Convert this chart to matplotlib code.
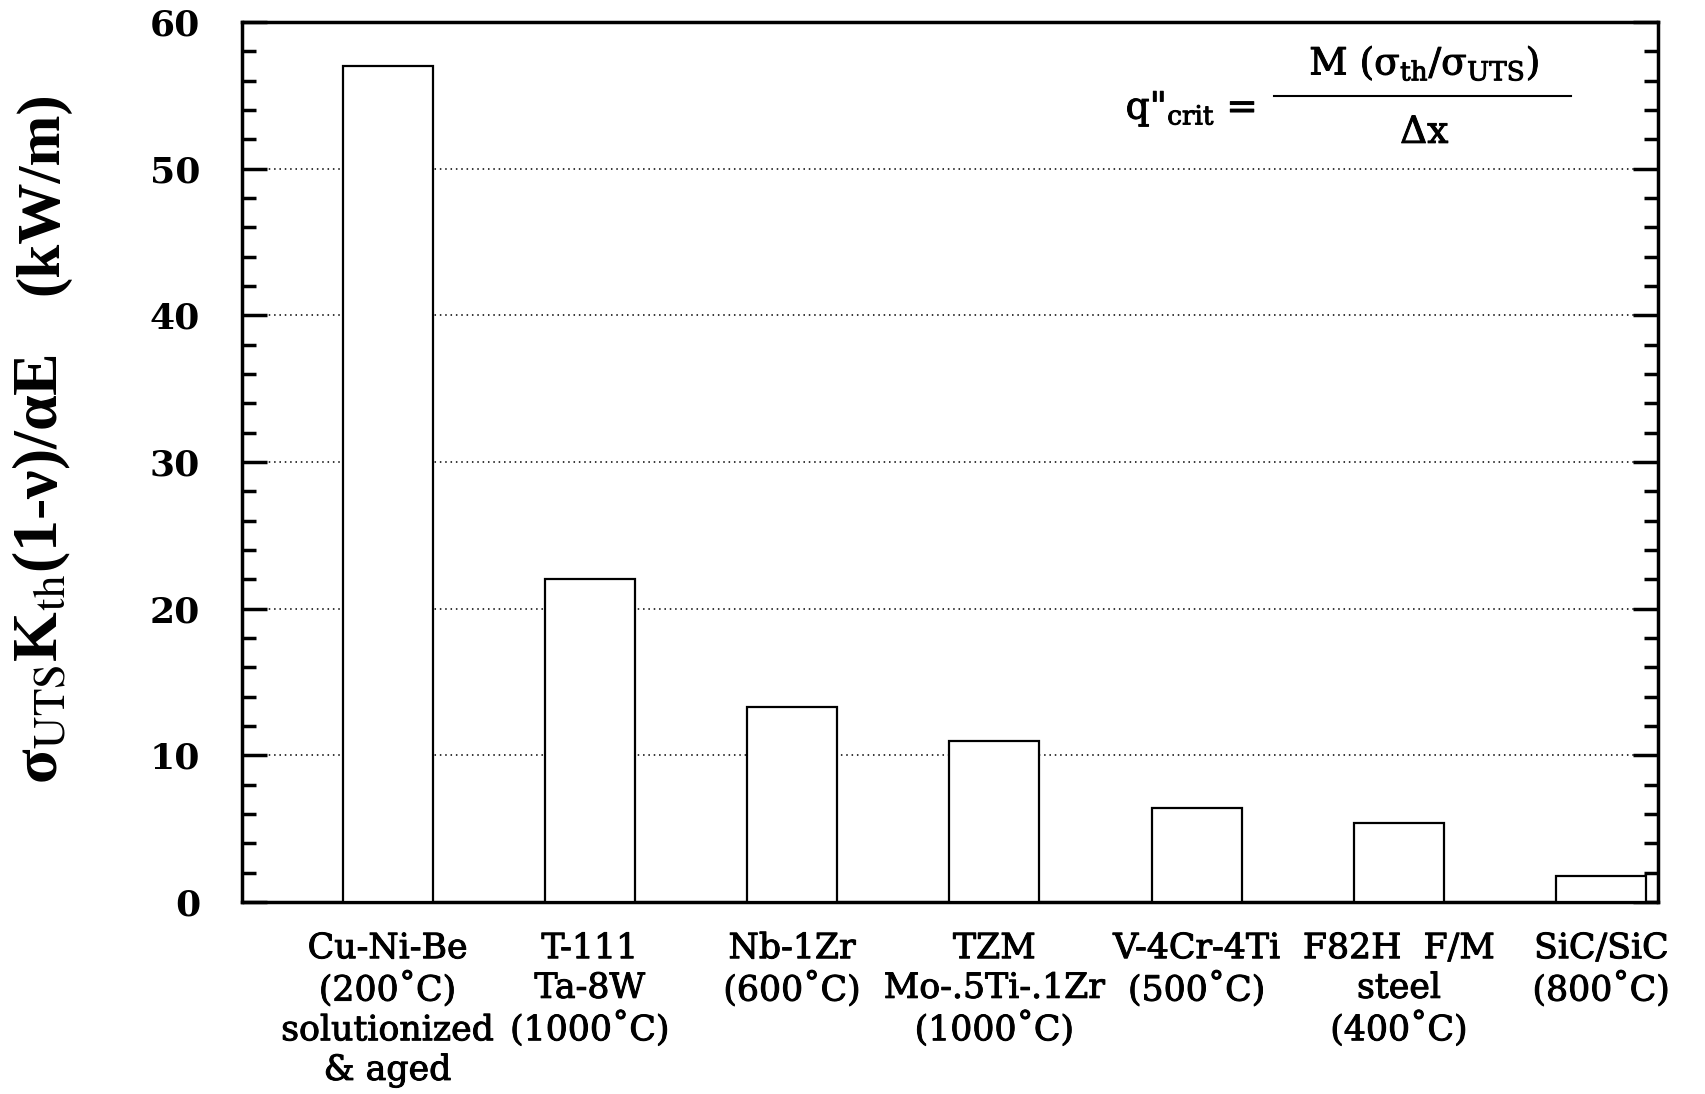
"""
Critical heat flux figure of merit for candidate first-wall alloys.
"""

import matplotlib
matplotlib.use("Agg")
import matplotlib.pyplot as plt
import matplotlib.patheffects as pe
from matplotlib.lines import Line2D
from matplotlib.ticker import MultipleLocator

plt.rcParams["font.family"] = ["DejaVu Serif"]
plt.rcParams["mathtext.fontset"] = "dejavuserif"

materials = [
    "Cu-Ni-Be\n(200\u02daC)\nsolutionized\n& aged",
    "T-111\nTa-8W\n(1000\u02daC)",
    "Nb-1Zr\n(600\u02daC)",
    "TZM\nMo-.5Ti-.1Zr\n(1000\u02daC)",
    "V-4Cr-4Ti\n(500\u02daC)",
    "F82H  F/M\nsteel\n(400\u02daC)",
    "SiC/SiC\n(800\u02daC)",
]
merit = [57.0, 22.0, 13.3, 11.0, 6.4, 5.4, 1.8]

# slightly heavier strokes for the regular-weight labels
heavy = [pe.withStroke(linewidth=0.7, foreground="black")]

fig = plt.figure(figsize=(17.05, 10.94), dpi=100)
ax = fig.add_axes([0.1419, 0.1755, 0.8305, 0.8044])

x = range(len(materials))
ax.bar(x, merit, width=0.445, color="white", edgecolor="black",
       linewidth=1.6, zorder=3)

ax.set_xlim(-0.72, 6.28)
ax.set_ylim(0, 60)
ax.set_xticks(list(x))
ax.set_xticklabels(materials, fontsize=25, linespacing=1.21)
ax.tick_params(axis="x", length=0, pad=21)
for lbl in ax.get_xticklabels():
    lbl.set_path_effects(heavy)

ax.yaxis.set_major_locator(MultipleLocator(10))
ax.yaxis.set_minor_locator(MultipleLocator(2))
ax.tick_params(axis="y", which="major", direction="in", length=18, width=2.5,
               right=True, labelsize=26, pad=30)
ax.tick_params(axis="y", which="minor", direction="in", length=10, width=2.5,
               right=True)
for lbl in ax.get_yticklabels():
    lbl.set_fontweight("bold")

for sp in ax.spines.values():
    sp.set_linewidth(2.5)

# dotted guide lines at the major ticks, kept behind the bars
ax.set_axisbelow(True)
ax.yaxis.grid(True, which="major", linestyle=(0, (1, 2.5)), linewidth=1.1,
              color="black")

# rotated axis title
fig.text(0.0246, 0.48,
         r"σ$_{\rm UTS}$K$_{\rm th}$(1-ν)/αE",
         rotation=90, ha="center", va="center", fontsize=46, fontweight="bold",
         family="Liberation Serif", math_fontfamily="stix")
fig.text(0.0246, 0.823, "(kW/m)", rotation=90, ha="center", va="center",
         fontsize=44, fontweight="bold", family="Liberation Serif")

# critical heat flux relation
ax.text(0.716, 0.901, r'q"$_{\rm crit}$ =', transform=ax.transAxes,
        ha="right", va="center", fontsize=27, path_effects=heavy)
ax.text(0.835, 0.953, r"M (σ$_{\rm th}$/σ$_{\rm UTS}$)",
        transform=ax.transAxes, ha="center", va="center", fontsize=27,
        path_effects=heavy)
ax.text(0.835, 0.874, "Δx", transform=ax.transAxes,
        ha="center", va="center", fontsize=27, path_effects=heavy)
ax.add_line(Line2D([0.729, 0.9386], [0.916, 0.916], transform=ax.transAxes,
                   color="black", linewidth=1.5))

fig.savefig("out.png", dpi=100)
plt.close(fig)
